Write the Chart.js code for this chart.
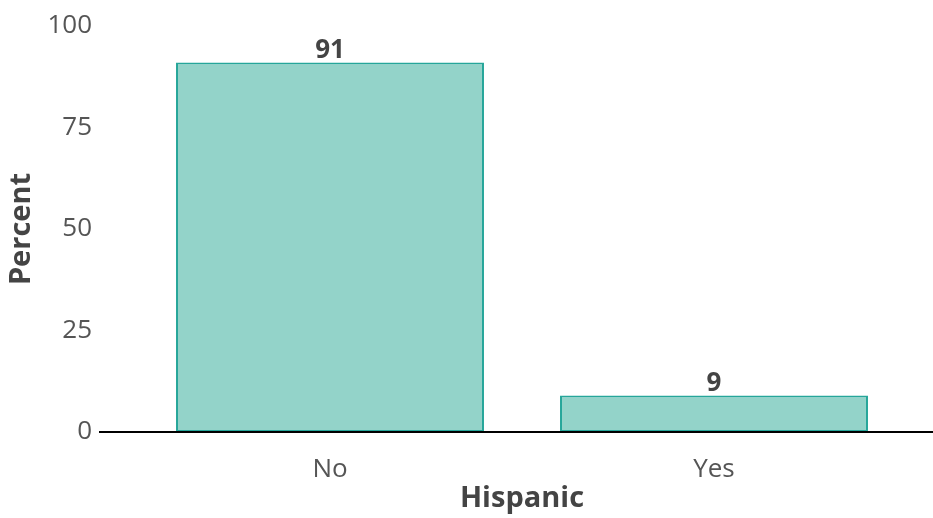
<!DOCTYPE html>
<html>
<head>
<meta charset="utf-8">
<script src="https://cdn.jsdelivr.net/npm/chart.js@4"></script>
<style>
  html, body { margin: 0; padding: 0; background: #fff; }
  #wrap { width: 933px; height: 518px; }
</style>
</head>
<body>
<div id="wrap"><canvas id="chart"></canvas></div>
<script>
// Datos
const categorias = ['No', 'Yes'];
const porcentajes = [91, 9];
const ticksY = [0, 25, 50, 75, 100];

const FUENTE = '"Open Sans", "Noto Sans", sans-serif';

// Línea del eje x (más larga que el área de barras)
const lineaEje = {
    id: 'lineaEje',
    afterDatasetsDraw(chart) {
        const ctx = chart.ctx;
        const y = chart.scales.y.getPixelForValue(0);
        ctx.save();
        ctx.strokeStyle = '#000';
        ctx.lineWidth = 2;
        ctx.beginPath();
        ctx.moveTo(99, y);
        ctx.lineTo(933, y);
        ctx.stroke();
        ctx.restore();
    }
};

// Etiquetas de valor encima de las barras
const etiquetas = {
    id: 'etiquetas',
    afterDatasetsDraw(chart) {
        const ctx = chart.ctx;
        const meta = chart.getDatasetMeta(0);
        ctx.save();
        ctx.font = 'bold 26px ' + FUENTE;
        ctx.fillStyle = '#444';
        ctx.textAlign = 'center';
        ctx.textBaseline = 'bottom';
        meta.data.forEach((bar, i) => {
            ctx.fillText(porcentajes[i], bar.x, bar.y + 1);
        });
        ctx.restore();
    }
};

new Chart(document.getElementById('chart'), {
    type: 'bar',
    data: {
        labels: categorias,
        datasets: [{
            data: porcentajes,
            backgroundColor: '#93d3c9',
            borderColor: '#26a69a',
            borderWidth: 2,
            borderSkipped: false,
            categoryPercentage: 1,
            barPercentage: 0.802
        }]
    },
    options: {
        responsive: true,
        maintainAspectRatio: false,
        animation: false,
        layout: { padding: { top: 26, right: 27, bottom: 2, left: 0 } },
        plugins: { legend: { display: false }, tooltip: { enabled: false } },
        scales: {
            x: {
                afterFit: axis => { axis.height = 84; axis.paddingLeft = 0; axis.paddingRight = 0; },
                grid: { display: false, drawTicks: false },
                border: { display: false },
                ticks: { color: '#555', font: { family: FUENTE, size: 26 }, padding: 22 },
                title: { display: true, text: 'Hispanic', color: '#444', font: { family: FUENTE, size: 29, weight: 'bold' }, padding: { top: 0, bottom: 0 } }
            },
            y: {
                min: 0,
                max: 100,
                afterBuildTicks: axis => { axis.ticks = ticksY.map(v => ({ value: v })); },
                afterFit: axis => { axis.width = 138; axis.paddingTop = 0; axis.paddingBottom = 0; },
                grid: { display: false, drawTicks: false },
                border: { display: false },
                ticks: { color: '#555', font: { family: FUENTE, size: 26 }, padding: 46 },
                title: { display: true, text: 'Percent', color: '#444', font: { family: FUENTE, size: 29, weight: 'bold' }, padding: { top: 4, bottom: 0 } }
            }
        }
    },
    plugins: [lineaEje, etiquetas]
});
</script>
</body>
</html>
